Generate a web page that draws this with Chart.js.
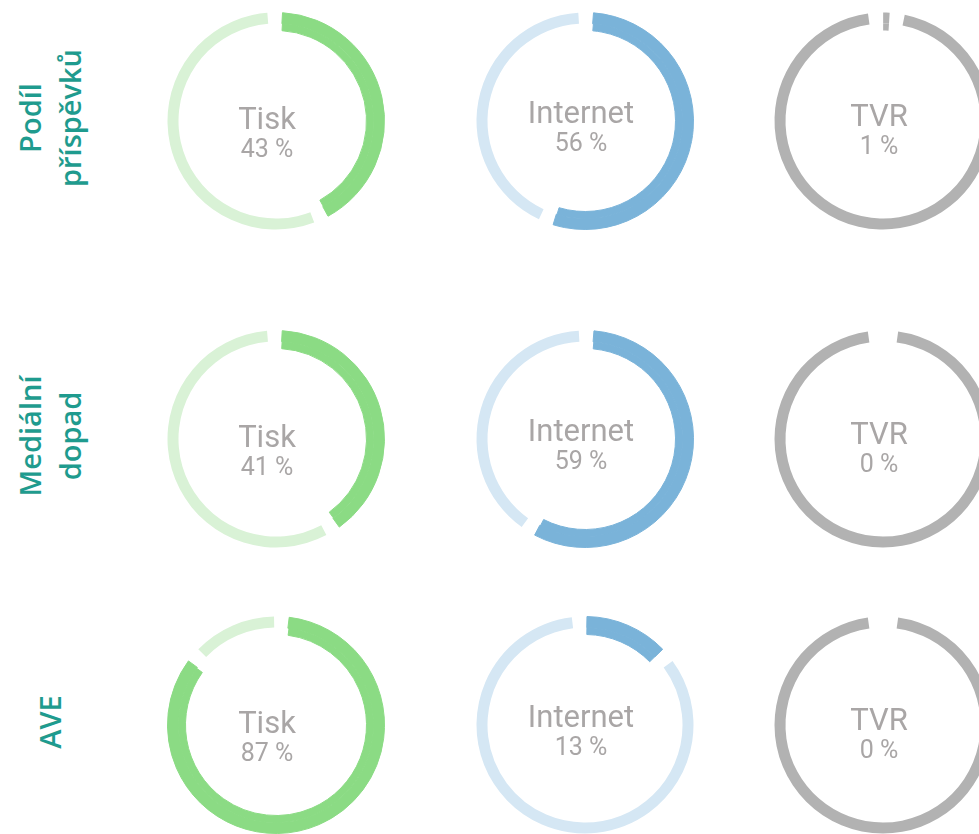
<!DOCTYPE html>
<html>
<head>
<meta charset="utf-8">
<script src="https://cdn.jsdelivr.net/npm/chart.js@4"></script>
<style>
  html, body { margin: 0; padding: 0; background: #fff; }
  body { width: 979px; height: 834px; overflow: hidden; position: relative; }
  .cell { position: absolute; width: 260px; height: 260px; }
  .cell canvas { position: absolute; left: 0; top: 0; }
  .name, .pct { position: absolute; left: 0; width: 260px; text-align: center; font-family: Roboto, sans-serif; color: #a9a6a6; line-height: 1; }
  .name { font-size: 31px; }
  .pct { font-size: 25px; }
  .rowlabel { position: absolute; width: 200px; text-align: center; font-family: "Open Sans", sans-serif; font-weight: 600;
    font-size: 29px; line-height: 40px; color: #1f9b8e; transform: rotate(-90deg); }
</style>
</head>
<body>
<script>
// categories and row titles
const categories = ['Tisk', 'Internet', 'TVR'];
const rowLabels = [['Podíl', 'příspěvků'], ['Mediální', 'dopad'], ['AVE']];

// percentage values per row (Tisk, Internet, TVR)
const podilValues = [43, 56, 1];
const dopadValues = [41, 59, 0];
const aveValues = [87, 13, 0];
const rowValues = [podilValues, dopadValues, aveValues];

const darkColors = ['#8bdb84', '#7ab3d9', '#b2b2b2'];
const lightColors = ['#d9f2d6', '#d5e7f4', '#b2b2b2'];

// layout
const colX = [276, 585, 883];
const rowY = [121, 439, 725];
const textDx = [-9, -4, -4];
const textDy = [3, -3, 0];
const size = 260;

rowLabels.forEach((lines, r) => {
  const div = document.createElement('div');
  div.className = 'rowlabel';
  div.innerHTML = lines.join('<br>');
  document.body.appendChild(div);
  const h = lines.length * 40;
  div.style.left = (50 - 100) + 'px';
  div.style.top = (rowY[r] - 3 - h / 2) + 'px';
});

rowValues.forEach((values, r) => {
  values.forEach((v, c) => {
    const cell = document.createElement('div');
    cell.className = 'cell';
    cell.style.left = (colX[c] - size / 2) + 'px';
    cell.style.top = (rowY[r] - size / 2) + 'px';
    const canvas = document.createElement('canvas');
    canvas.width = size;
    canvas.height = size;
    cell.appendChild(canvas);

    const name = document.createElement('div');
    name.className = 'name';
    name.textContent = categories[c];
    name.style.left = textDx[c] + 'px';
    name.style.top = (size / 2 - 5 + textDy[c] - 16) + 'px';
    cell.appendChild(name);

    const pct = document.createElement('div');
    pct.className = 'pct';
    pct.textContent = v + ' %';
    pct.style.left = textDx[c] + 'px';
    pct.style.top = (size / 2 + 25 + textDy[c] - 13) + 'px';
    cell.appendChild(pct);

    document.body.appendChild(cell);

    const dark = darkColors[c];
    // thin same-colour border hides the seam between the two rings
    const seam = ctx => (ctx.dataIndex === 0 && ctx.raw > 2) ? 1 : 0;

    // outer ring: value + remainder, inner ring: value only (makes the value arc thicker)
    new Chart(canvas, {
      type: 'doughnut',
      data: {
        labels: [categories[c], ''],
        datasets: [{
          data: [v, 100 - v],
          backgroundColor: [dark, lightColors[c]],
          borderColor: dark,
          borderWidth: seam,
          weight: 11
        }, {
          data: [v, 100 - v],
          backgroundColor: [dark, 'rgba(0,0,0,0)'],
          borderColor: dark,
          borderWidth: seam,
          weight: 7
        }]
      },
      options: {
        responsive: false,
        animation: false,
        events: [],
        spacing: 9,
        radius: 104,
        cutout: '82.7%',
        layout: { padding: 0 },
        plugins: { legend: { display: false }, tooltip: { enabled: false } }
      }
    });
  });
});
</script>
</body>
</html>
